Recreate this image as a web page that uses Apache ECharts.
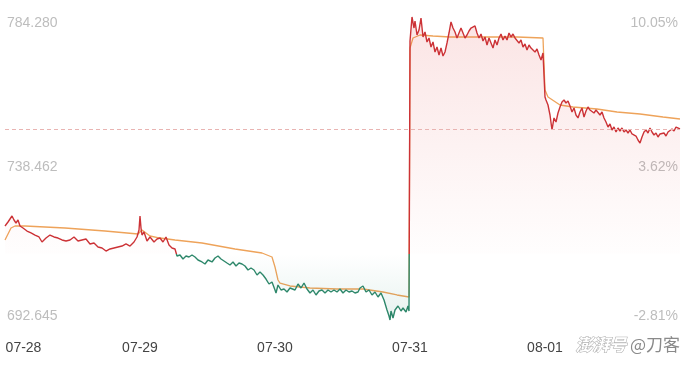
<!DOCTYPE html>
<html><head><meta charset="utf-8">
<script src="https://cdn.jsdelivr.net/npm/echarts@6/dist/echarts.min.js"></script>
<style>html,body{margin:0;padding:0;background:#fff}#c{width:690px;height:365px}</style>
</head><body><div id="c"></div>
<script>
// ---- data ----
const dayLabels = ['07-28', '07-29', '07-30', '07-31', '08-01'];
const dayStarts = [0, 135, 270, 405, 540];          // sample index where each day starts
const sessionEnd = 675;
const prevClose = 712.66;
const yMin = 692.645, yMax = 784.28;
const leftTicks = [692.645, 738.462, 784.280];
const rightTicks = ['-2.81%', '3.62%', '10.05%'];

const priceT = [
  0,3,7,9,11,13,15,18,22,26,30,34,37,41,45,49,53,57,61,65,69,73,77,81,85,89,93,97,101,105,109,113,117,121,125,129,132,
  134,135,136,137,139,142,145,149,152,155,158,161,164,167,170,172,175,178,181,184,187,190,193,197,200,203,207,210,213,216,219,222,225,228,231,234,237,240,243,246,249,252,255,258,261,264,267,
  270,271,273,276,279,282,285,287,290,293,296,299,302,305,308,311,314,317,320,323,326,329,332,335,338,341,344,347,350,353,355,358,361,364,367,370,373,376,379,382,384,385,386,388,390,393,396,398,401,403,404,
  405,407,409,410,412,414,416,418,420,422,424,426,428,430,432,434,436,438,440,442,444,446,448,450,452,454,456,458,460,462,464,466,468,470,472,474,476,478,480,482,484,486,488,490,492,494,496,498,500,502,504,506,508,510,512,514,516,518,520,522,524,526,528,530,532,534,536,538,
  540,541,543,545,547,549,551,553,555,557,559,561,563,565,567,569,571,573,575,577,579,581,583,585,587,589,591,593,595,597,599,601,603,605,607,609,611,613,615,617,619,621,623,625,627,629,631,633,635,637,639,641,643,645,647,649,651,653,655,657,659,661,663,665,667,669,671,673,675
];
const priceV = [
  721.07,722.28,724.10,722.89,721.98,722.89,721.07,720.47,719.56,718.96,718.35,717.75,716.23,717.44,718.35,717.75,717.44,716.84,716.54,716.84,717.75,716.54,716.84,717.14,715.63,715.93,714.72,714.42,713.51,714.12,714.42,714.72,715.02,715.63,715.02,716.23,717.75,
  719.86,724.10,720.47,718.35,719.26,716.54,717.75,716.23,717.14,717.44,716.23,717.75,715.33,714.42,714.12,712.00,712.30,711.09,712.00,711.70,712.30,711.70,710.79,710.19,709.58,710.79,710.19,711.40,712.00,711.09,710.49,709.88,709.28,710.19,708.98,709.88,709.58,708.98,707.77,708.37,707.77,706.25,707.16,706.25,705.04,703.53,704.14,
  701.72,700.81,703.23,701.72,702.02,701.11,702.32,702.62,701.72,703.53,702.32,703.83,702.02,700.81,701.72,700.21,701.42,701.72,700.81,701.72,701.11,701.72,701.11,702.02,700.81,701.72,701.11,701.42,700.81,701.11,702.32,702.93,701.11,701.72,700.21,701.11,699.60,700.81,698.69,695.67,693.85,692.645,695.37,693.25,695.67,696.88,695.37,696.27,695.06,696.88,695.37,
  777.02,784.28,780.95,783.07,778.84,780.35,783.98,778.23,779.74,776.72,777.93,775.21,776.72,773.69,775.21,772.79,774.90,772.49,773.69,776.42,779.44,782.77,780.95,779.74,777.93,779.44,780.95,779.44,777.93,778.84,780.05,780.95,780.65,781.56,779.44,777.93,779.14,777.02,778.23,775.81,777.93,776.42,774.90,777.32,775.81,777.93,779.14,777.32,778.53,777.32,779.44,778.23,779.14,777.93,778.23,776.42,777.32,775.21,776.11,774.30,775.81,774.90,775.21,773.69,774.60,772.79,771.28,773.39,
  760.09,759.18,757.67,754.64,750.11,753.74,752.53,755.25,757.06,758.57,759.18,758.27,758.88,757.36,755.55,756.76,754.64,753.74,755.55,756.76,754.04,755.85,757.06,756.15,756.46,755.25,756.15,755.55,754.64,755.55,753.74,752.53,751.01,751.92,750.11,751.01,749.50,750.71,749.80,750.71,749.50,750.11,749.20,750.11,748.90,749.20,748.29,747.08,746.17,747.99,749.50,750.11,749.20,750.71,749.50,748.59,749.20,747.99,748.90,748.59,749.20,748.29,749.50,749.20,750.41,749.80,751.01,750.71,750.41
];
const avgT = [0,3,6,10,20,60,100,133, 135,137,145,155,170,197,230,257,267, 270,273,275,285,305,332,358,378,392,404, 405,408,415,428,445,478,512,538, 540,543,555,568,592,612,635,658,675];
const avgV = [716.84,718.65,720.47,721.07,721.07,720.47,719.56,718.65, 718.65,719.86,718.05,717.44,716.84,715.93,714.12,712.91,711.70, 708.67,704.74,703.83,702.93,702.32,702.02,702.02,701.11,700.21,699.60, 774.90,777.93,778.84,778.53,778.23,778.23,778.23,777.93, 762.20,760.09,757.67,757.06,756.46,755.55,754.94,754.04,753.43];

// ---- chart ----
const chart = echarts.init(document.getElementById('c'), null, {renderer: 'canvas'});
const gridTop = 17, gridBottom = 45, H = 365;
const plotBottom = H - gridBottom;
const f = (yMax - prevClose) / (yMax - yMin);
const RED = '#cc3236', GREEN = '#2d876a';
const lineGrad = {
  type: 'linear', global: true, x: 0, y: gridTop, x2: 0, y2: plotBottom,
  colorStops: [
    {offset: 0, color: RED}, {offset: f, color: RED},
    {offset: f, color: GREEN}, {offset: 1, color: GREEN}
  ]
};
const areaGrad = {
  type: 'linear', global: true, x: 0, y: gridTop, x2: 0, y2: plotBottom,
  colorStops: [
    {offset: 0, color: 'rgba(228,80,80,0.22)'},
    {offset: f, color: 'rgba(228,80,80,0.01)'},
    {offset: f, color: 'rgba(40,140,115,0.0)'},
    {offset: 1, color: 'rgba(40,140,115,0.16)'}
  ]
};
const priceData = priceT.map((t, i) => [t, priceV[i]]);
const avgData = avgT.map((t, i) => [t, avgV[i]]);
const lastPrice = priceV[priceV.length - 1];

const FONT = 'Arial, Liberation Sans, sans-serif';
const yLabelRich = {
  t: {fontSize: 14, lineHeight: 14, color: '#bdbdbd', padding: [12, 0, 0, 0], fontFamily: FONT},
  m: {fontSize: 14, lineHeight: 14, color: '#bdbdbd', padding: [0, 0, 3, 0], fontFamily: FONT},
  b: {fontSize: 14, lineHeight: 14, color: '#bdbdbd', padding: [0, 0, 7, 0], fontFamily: FONT}
};
function tickIdx(v) { return leftTicks.findIndex(x => Math.abs(x - v) < 0.01); }
function wrap(i, s) { return i === 2 ? '{t|' + s + '}' : (i === 1 ? '{m|' + s + '}' : '{b|' + s + '}'); }

chart.setOption({
  animation: false,
  backgroundColor: '#fff',
  grid: {left: 5, right: 10, top: gridTop, bottom: gridBottom},
  xAxis: {
    type: 'value', min: 0, max: sessionEnd,
    axisLine: {show: false}, axisTick: {show: false, customValues: dayStarts}, splitLine: {show: false},
    axisLabel: {
      customValues: dayStarts, margin: 21,
      fontSize: 14, color: '#444', fontFamily: FONT,
      formatter: function (v) {
        const i = dayStarts.indexOf(v);
        if (i === 0) return '{first|' + dayLabels[0] + '}';
        return i >= 0 ? dayLabels[i] : '';
      },
      rich: {first: {fontSize: 14, color: '#444', padding: [0, 0, 0, 37], fontFamily: FONT}}
    }
  },
  yAxis: [{
    type: 'value', min: yMin, max: yMax, position: 'left',
    axisLine: {show: false}, axisTick: {show: false, customValues: leftTicks}, splitLine: {show: false},
    axisLabel: {
      inside: true, margin: 2, customValues: leftTicks,
      formatter: function (v) { const i = tickIdx(v); return wrap(i, leftTicks[i].toFixed(3)); },
      rich: yLabelRich
    }
  }, {
    type: 'value', min: yMin, max: yMax, position: 'right',
    axisLine: {show: false}, axisTick: {show: false, customValues: leftTicks}, splitLine: {show: false},
    axisLabel: {
      inside: true, margin: 2, customValues: leftTicks,
      formatter: function (v) { const i = tickIdx(v); return wrap(i, rightTicks[i]); },
      rich: yLabelRich
    }
  }],
  series: [{
    name: 'price', type: 'line', data: priceData, showSymbol: false, symbol: 'none',
    lineStyle: {width: 1.4, color: lineGrad},
    areaStyle: {origin: prevClose, color: areaGrad},
    z: 3
  }, {
    name: 'avg', type: 'line', data: avgData, showSymbol: false, symbol: 'none',
    lineStyle: {width: 1.3, color: '#eea35a'}, itemStyle: {color: '#eea35a'},
    z: 2,
    markLine: {
      silent: true, symbol: 'none', label: {show: false},
      lineStyle: {type: [4, 3], color: '#e9b4b2', width: 1},
      data: [{yAxis: lastPrice}]
    }
  }],
  graphic: [{
    type: 'text', right: 10, top: 336,
    style: {
      text: '{a|澎湃号} {b|@刀客}',
      rich: {
        a: {fontSize: 17, fontStyle: 'italic', fontWeight: 'bold', fontFamily: 'Noto Sans CJK SC', fill: '#fff', stroke: '#a8a8a8', lineWidth: 1},
        b: {fontSize: 17, fontFamily: 'Noto Sans CJK SC', fill: '#8a8a8a'}
      }
    }
  }]
});
</script>
</body></html>
